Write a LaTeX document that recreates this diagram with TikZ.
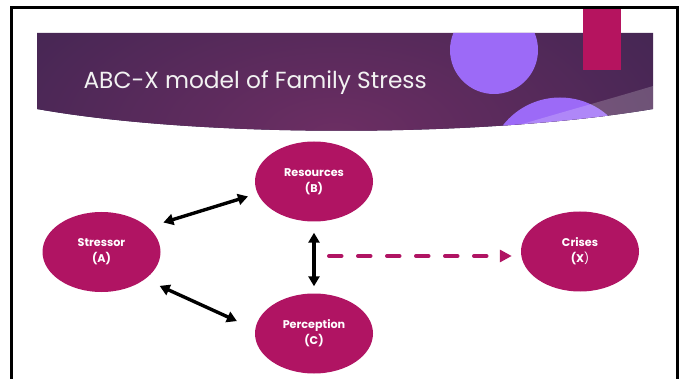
\documentclass[tikz,border=0pt]{standalone}
\usepackage{fontspec}
\setmainfont{Poppins}
\usetikzlibrary{arrows.meta,shapes.geometric}
\definecolor{slidedark}{HTML}{2A2149}
\definecolor{slidemid}{HTML}{6C2E63}
\definecolor{blobviolet}{HTML}{9C6AF7}
\definecolor{accentrose}{HTML}{B5145F}
\definecolor{nodeplum}{HTML}{B01463}

\begin{document}
\begin{tikzpicture}[x=1pt, y=-1pt,
        factor/.style={ellipse, fill=nodeplum, minimum width=118pt, minimum height=80pt,
            inner sep=0pt, text=white, align=center, font=\fontsize{11.2}{16}\selectfont\bfseries},
        link/.style={line width=3.4pt, {Triangle[length=10pt,width=11pt]}-{Triangle[length=10pt,width=11pt]}}]
        % Slide frame
        \useasboundingbox (0,0) rectangle (685,379);
        \draw[line width=3pt] (11,379) -- (11,8) -- (677,8) -- (677,379);

        % Title banner
        \begin{scope}
            \clip (37,33) -- (653,33) -- (653,109) .. controls (480,138) and (200,138) .. (37,109) -- cycle;
            \fill[slidedark] (37,33) rectangle (653,140);
            \shade[inner color=slidemid, outer color=slidedark] (335,135) ellipse (640 and 330);
            \fill[blobviolet] (494,50) circle (44);
            \fill[blobviolet] (560,170) circle (72.5);
            \fill[white, opacity=0.2] (653,86) .. controls (600,102) and (540,118) .. (470,140) -- (653,140) -- cycle;
        \end{scope}
        \fill[accentrose] (583,9.5) rectangle (621,70);
        \node[text=white!90!gray, font=\fontsize{23.3}{28}\selectfont, anchor=base west] (title) at (80,89) {ABC-X model of Family Stress};

        % Factors
        \node[factor] (stressor) at (101.5,252) {Stressor\\(A)};
        \node[factor] (resources) at (314,181.5) {Resources\\(B)};
        \node[factor] (perception) at (314,333.5) {Perception\\(C)};
        \node[factor] (crises) at (580,251.5) {Crises\\(X\textmd{)}};

        % Links
        \draw[link, shorten <=16pt, shorten >=10pt] (stressor.28) -- (resources.192);
        \draw[link, shorten <=16pt, shorten >=20pt] (stressor.-32) -- (perception.176);
        \draw[link, shorten <=11pt, shorten >=7pt] (resources) -- (perception);
        \coordinate (dashstart) at (329,256);
        \draw[nodeplum, line width=4pt, line cap=round, dash pattern=on 12.5pt off 16.5pt,
            -{Triangle[length=12pt,width=12pt]}, shorten >=9pt] (dashstart) -- (dashstart -| crises.west);
    \end{tikzpicture}
\end{document}
